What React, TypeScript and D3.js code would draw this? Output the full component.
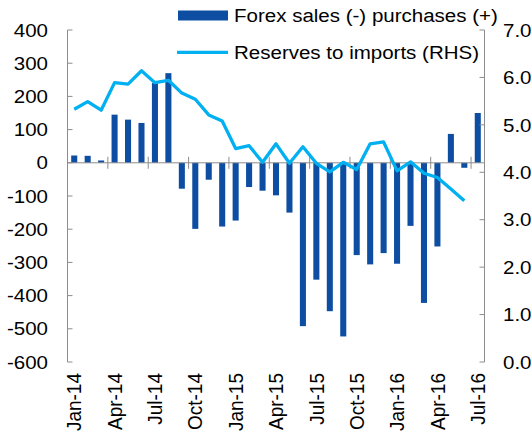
import * as d3 from "d3";

// monthly categories Jan-14 .. Jul-16
const months = d3
  .timeMonths(new Date(2014, 0, 1), new Date(2016, 7, 1))
  .map((d) => d3.timeFormat("%b-%y")(d));

// Forex sales (-) / purchases (+), left axis
const forex = [
  22, 21, 7, 145, 130, 120, 240, 270, -78, -199, -51, -192, -174, -73, -84,
  -98, -150, -492, -352, -447, -523, -278, -306, -272, -304, -190, -422, -252,
  87, -15, 150,
];

// Reserves to imports (RHS)
const reserves = [
  5.33, 5.49, 5.31, 5.89, 5.86, 6.14, 5.89, 5.94, 5.67, 5.54, 5.21, 5.08, 4.5,
  4.56, 4.21, 4.6, 4.19, 4.54, 4.19, 4.01, 4.21, 4.06, 4.6, 4.64, 4.03, 4.22,
  3.98, 3.89, 3.65, 3.4, null,
];

const leftTicks = d3.range(-600, 401, 100);
const rightTicks = d3.range(0, 8, 1);

const W = 532;
const H = 438;
const left = 67.5;
const right = 484.5;
const top = 30;
const bottom = 362;

const barColor = "#0D4EA2";
const lineColor = "#00B0F0";
const axisColor = "#8C8C8C";
const font = "'Liberation Sans', Arial, sans-serif";
// text in the original is a bit wider than tall
const sx = 1.08;

export default function App() {
  const x = d3
    .scaleBand()
    .domain(months)
    .range([left, right])
    .paddingInner(0.55)
    .paddingOuter(0.275);
  const xEdge = d3.scaleBand().domain(months).range([left, right]);
  const yL = d3.scaleLinear().domain([-600, 400]).range([bottom, top]);
  const yR = d3.scaleLinear().domain([0, 7]).range([bottom, top]);
  const cx = (m) => (x(m) ?? 0) + x.bandwidth() / 2;
  const y0 = yL(0);

  const line = d3
    .line()
    .defined((d) => d[1] != null)
    .x((d) => cx(d[0]))
    .y((d) => yR(d[1]));
  const linePath = line(months.map((m, i) => [m, reserves[i]]));

  const tickMonths = months.filter((_, i) => i % 3 === 0);
  const at = (px, py) => `translate(${px},${py}) scale(${sx},1)`;

  return (
    <svg
      width={W}
      height={H}
      style={{ position: "absolute", left: 0, top: 0, background: "#fff" }}
      fontFamily={font}
      fontSize={19}
    >
      {/* bars */}
      <g>
        {months.map((m, i) => (
          <rect
            key={m}
            x={x(m)}
            width={x.bandwidth()}
            y={Math.min(yL(forex[i]), y0)}
            height={Math.abs(yL(forex[i]) - y0)}
            fill={barColor}
          />
        ))}
      </g>

      {/* left axis */}
      <line x1={left} x2={left} y1={top} y2={bottom} stroke={axisColor} />
      {leftTicks.map((t) => (
        <g key={t}>
          <line x1={left} x2={left + 5} y1={yL(t)} y2={yL(t)} stroke={axisColor} />
          <text transform={at(48, yL(t))} dy="0.35em" textAnchor="end" fill="#000">
            {t}
          </text>
        </g>
      ))}

      {/* right axis */}
      <line x1={right} x2={right} y1={top} y2={bottom} stroke={axisColor} />
      {rightTicks.map((t) => (
        <g key={t}>
          <line x1={right - 5} x2={right} y1={yR(t)} y2={yR(t)} stroke={axisColor} />
          <text transform={at(503, yR(t))} dy="0.35em" textAnchor="start" fill="#000">
            {d3.format(".1f")(t)}
          </text>
        </g>
      ))}

      {/* category axis on zero line */}
      <line x1={left} x2={right} y1={y0} y2={y0} stroke={axisColor} />
      {tickMonths.slice(1).map((m) => (
        <line
          key={m}
          x1={xEdge(m)}
          x2={xEdge(m)}
          y1={y0 - 6}
          y2={y0 + 6}
          stroke={axisColor}
        />
      ))}
      {tickMonths.map((m) => (
        <text
          key={m}
          transform={`translate(${cx(m)},373) scale(${sx},1) rotate(-90)`}
          dy="0.35em"
          textAnchor="end"
          fill="#000"
        >
          {m}
        </text>
      ))}

      {/* reserves line */}
      <path
        d={linePath ?? ""}
        fill="none"
        stroke={lineColor}
        strokeWidth={3.3}
        strokeLinejoin="round"
      />

      {/* legend */}
      <rect x={178} y={10.5} width={50} height={10} fill={barColor} />
      <text transform={at(234, 22)}>Forex sales (-) purchases (+)</text>
      <line x1={177} x2={228} y1={52.3} y2={52.3} stroke={lineColor} strokeWidth={3.3} />
      <text transform={at(234, 58.5)}>Reserves to imports (RHS)</text>
    </svg>
  );
}
